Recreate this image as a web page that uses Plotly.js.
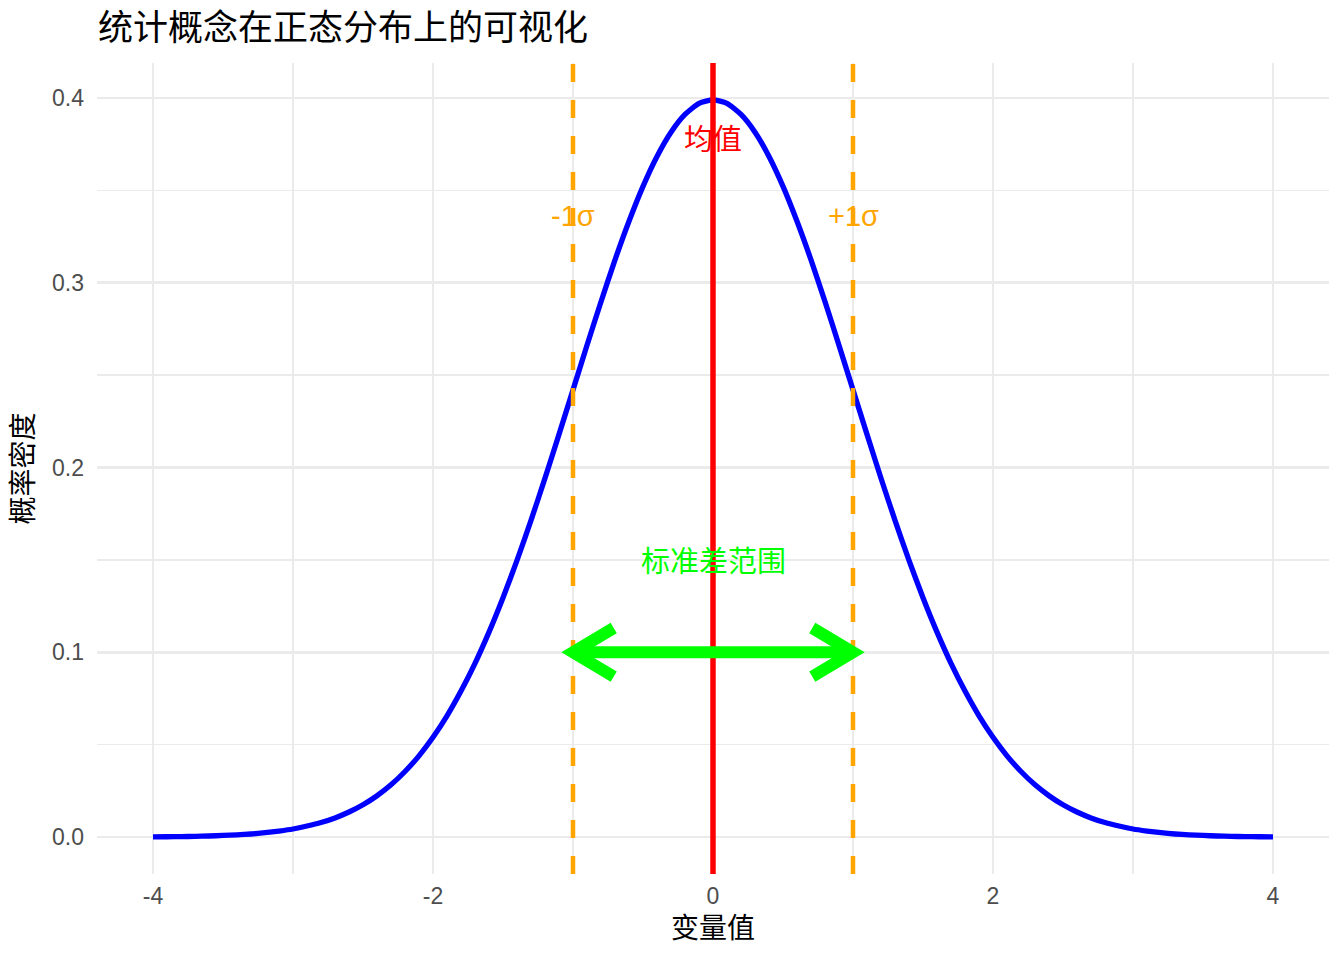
<!DOCTYPE html>
<html>
<head>
<meta charset="utf-8">
<script src="https://cdn.plot.ly/plotly-3.0.1.min.js"></script>
<style>html,body{margin:0;padding:0;background:#fff;}#chart{width:1344px;height:960px;}</style>
</head>
<body>
<div id="chart"></div>
<script>
// Density curve (standard normal shape), right half; left half mirrors it
const xHalf = [0.0,0.1,0.2,0.3,0.4,0.5,0.6,0.7,0.8,0.9,1.0,1.1,1.2,1.3,1.4,1.5,1.6,1.7,1.8,1.9,2.0,
               2.1,2.2,2.3,2.4,2.5,2.6,2.7,2.8,2.9,3.0,3.1,3.2,3.3,3.4,3.5,3.6,3.7,3.8,3.9,4.0];
const densityHalf = [0.3989,0.3970,0.3910,0.3814,0.3683,0.3521,0.3332,0.3123,0.2897,0.2661,0.2420,
                     0.2179,0.1942,0.1714,0.1497,0.1295,0.1109,0.0940,0.0790,0.0656,0.0540,
                     0.0440,0.0355,0.0283,0.0224,0.0175,0.0136,0.0104,0.0079,0.0060,0.0044,
                     0.0033,0.0024,0.0017,0.0012,0.0009,0.0006,0.0004,0.0003,0.0002,0.0001];
const xValues = xHalf.slice(1).reverse().map(v => -v).concat(xHalf);
const densityValues = densityHalf.slice(1).reverse().concat(densityHalf);

const meanValue = 0;
const sigmaLines = [-1, 1];
const arrowFrom = [-1, 0.1];
const arrowTo = [1, 0.1];

const labelTexts = ['均值', '-1σ', '+1σ', '标准差范围'];
const labelX = [0, -1, 1, 0];
const labelY = [0.377, 0.336, 0.336, 0.149];
const labelColors = ['#FF0000', '#FFA500', '#FFA500', '#00FF00'];

const xTicks = [-4, -2, 0, 2, 4];
const yTicks = [0.0, 0.1, 0.2, 0.3, 0.4];
const xRange = [-4.4, 4.4];
const yRange = [-0.01995, 0.41885];

const chartTitle = '统计概念在正态分布上的可视化';
const xTitle = '变量值';
const yTitle = '概率密度';

const FONT = 'Liberation Sans, Noto Sans CJK SC, sans-serif';
// arrow head size (style): back-offset along x and half-spread along y, in axis units
const HEAD_DX = 0.291, HEAD_DY = 0.01316;

const traces = [];
traces.push({
  x: xValues, y: densityValues, type: 'scatter', mode: 'lines',
  line: {color: '#0000FF', width: 5.3, shape: 'spline', smoothing: 0.6},
  hoverinfo: 'skip', showlegend: false
});
traces.push({
  x: [meanValue, meanValue], y: yRange, type: 'scatter', mode: 'lines',
  line: {color: '#FF0000', width: 5.5}, hoverinfo: 'skip', showlegend: false
});
sigmaLines.forEach(v => traces.push({
  x: [v, v], y: yRange, type: 'scatter', mode: 'lines',
  line: {color: '#FFA500', width: 4.5, dash: '18px,18px'}, hoverinfo: 'skip', showlegend: false
}));
// double-headed arrow
traces.push({
  x: [arrowFrom[0], arrowTo[0]], y: [arrowFrom[1], arrowTo[1]], type: 'scatter', mode: 'lines',
  line: {color: '#00FF00', width: 12}, hoverinfo: 'skip', showlegend: false
});
[[arrowFrom, 1], [arrowTo, -1]].forEach(([p, dir]) => traces.push({
  x: [p[0] + dir * HEAD_DX, p[0], p[0] + dir * HEAD_DX],
  y: [p[1] + HEAD_DY, p[1], p[1] - HEAD_DY],
  type: 'scatter', mode: 'lines',
  line: {color: '#00FF00', width: 12}, hoverinfo: 'skip', showlegend: false
}));

const annotations = labelTexts.map((t, i) => ({
  x: labelX[i], y: labelY[i], xref: 'x', yref: 'y', text: t, showarrow: false,
  xanchor: 'center', yanchor: 'middle',
  font: {family: FONT, size: 29, color: labelColors[i]}
}));

const layout = {
  width: 1344, height: 960,
  paper_bgcolor: '#FFFFFF', plot_bgcolor: '#FFFFFF',
  margin: {l: 97, r: 15, t: 63, b: 86},
  font: {family: FONT},
  title: {
    text: chartTitle, xref: 'container', yref: 'container',
    x: 98/1344, xanchor: 'left', y: 1 - 28/960, yanchor: 'middle',
    font: {family: FONT, size: 35, color: '#000000'}
  },
  xaxis: {
    range: xRange, tickvals: xTicks, ticktext: xTicks.map(String),
    showgrid: true, gridcolor: '#EBEBEB', gridwidth: 2.6,
    minor: {dtick: 1, tick0: 0, showgrid: true, gridcolor: '#EBEBEB', gridwidth: 1.4},
    zeroline: false, showline: false, ticks: '', ticklabelstandoff: 6,
    tickfont: {family: FONT, size: 23, color: '#4D4D4D'},
    title: {text: xTitle, standoff: 10, font: {family: FONT, size: 28, color: '#000000'}},
    automargin: false
  },
  yaxis: {
    range: yRange, tickvals: yTicks, ticktext: yTicks.map(v => v.toFixed(1)),
    showgrid: true, gridcolor: '#EBEBEB', gridwidth: 2.6,
    minor: {dtick: 0.05, tick0: 0, showgrid: true, gridcolor: '#EBEBEB', gridwidth: 1.4},
    zeroline: false, showline: false, ticks: '', ticklabelstandoff: 12,
    tickfont: {family: FONT, size: 23, color: '#4D4D4D'},
    title: {text: yTitle, standoff: 10, font: {family: FONT, size: 28, color: '#000000'}},
    automargin: false
  },
  annotations: annotations
};

Plotly.newPlot('chart', traces, layout, {displayModeBar: false, staticPlot: true});
</script>
</body>
</html>
